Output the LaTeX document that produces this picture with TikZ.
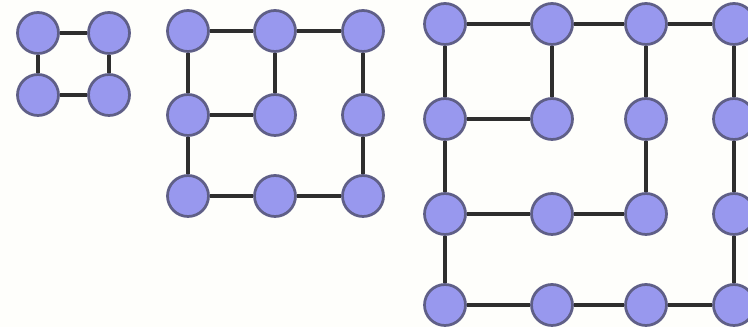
\documentclass[tikz,border=0pt]{standalone}
\usepackage{tikz}
\usepackage{xcolor}

\definecolor{vfill}{RGB}{152,152,238}
\definecolor{vline}{RGB}{95,95,135}
\definecolor{bgpaper}{RGB}{254,254,251}

\tikzset{
  vert/.style={circle, fill=vfill, draw=vline, line width=0.55mm, minimum size=0.82cm, inner sep=0pt},
  link/.style={draw=black!82, line width=0.85mm}
}

\begin{document}
\begin{tikzpicture}[x=0.02cm, y=-0.02cm]

        \fill[bgpaper] (0,0) rectangle (748,327);
        \useasboundingbox (0,0) rectangle (748,327);
        \clip (0,0) rectangle (748,327);

        % 2x2
        \foreach \c/\x in {1/38, 2/109}
          \foreach \r/\y in {1/33, 2/95}
            \node[vert] (a\r\c) at (\x,\y) {};
        \draw[link] (a11) -- (a12);
        \draw[link] (a12) -- (a22);
        \draw[link] (a22) -- (a21);
        \draw[link] (a21) -- (a11);

        % 3x3
        \foreach \c/\x in {1/188, 2/275, 3/363}
          \foreach \r/\y in {1/31, 2/115, 3/196}
            \node[vert] (b\r\c) at (\x,\y) {};
        \draw[link] (b11) -- (b12);
        \draw[link] (b12) -- (b13);
        \draw[link] (b12) -- (b22);
        \draw[link] (b22) -- (b21);
        \draw[link] (b11) -- (b21);
        \draw[link] (b21) -- (b31);
        \draw[link] (b31) -- (b32);
        \draw[link] (b32) -- (b33);
        \draw[link] (b33) -- (b23);
        \draw[link] (b23) -- (b13);

        % 4x4
        \foreach \c/\x in {1/445, 2/552, 3/646, 4/734}
          \foreach \r/\y in {1/24, 2/119, 3/214, 4/305}
            \node[vert] (c\r\c) at (\x,\y) {};
        \draw[link] (c11) -- (c12);
        \draw[link] (c12) -- (c13);
        \draw[link] (c13) -- (c14);
        \draw[link] (c14) -- (c24);
        \draw[link] (c24) -- (c34);
        \draw[link] (c34) -- (c44);
        \draw[link] (c44) -- (c43);
        \draw[link] (c43) -- (c42);
        \draw[link] (c42) -- (c41);
        \draw[link] (c41) -- (c31);
        \draw[link] (c31) -- (c21);
        \draw[link] (c21) -- (c11);
        \draw[link] (c12) -- (c22);
        \draw[link] (c22) -- (c21);
        \draw[link] (c13) -- (c23);
        \draw[link] (c23) -- (c33);
        \draw[link] (c33) -- (c32);
        \draw[link] (c32) -- (c31);

\end{tikzpicture}
\end{document}
